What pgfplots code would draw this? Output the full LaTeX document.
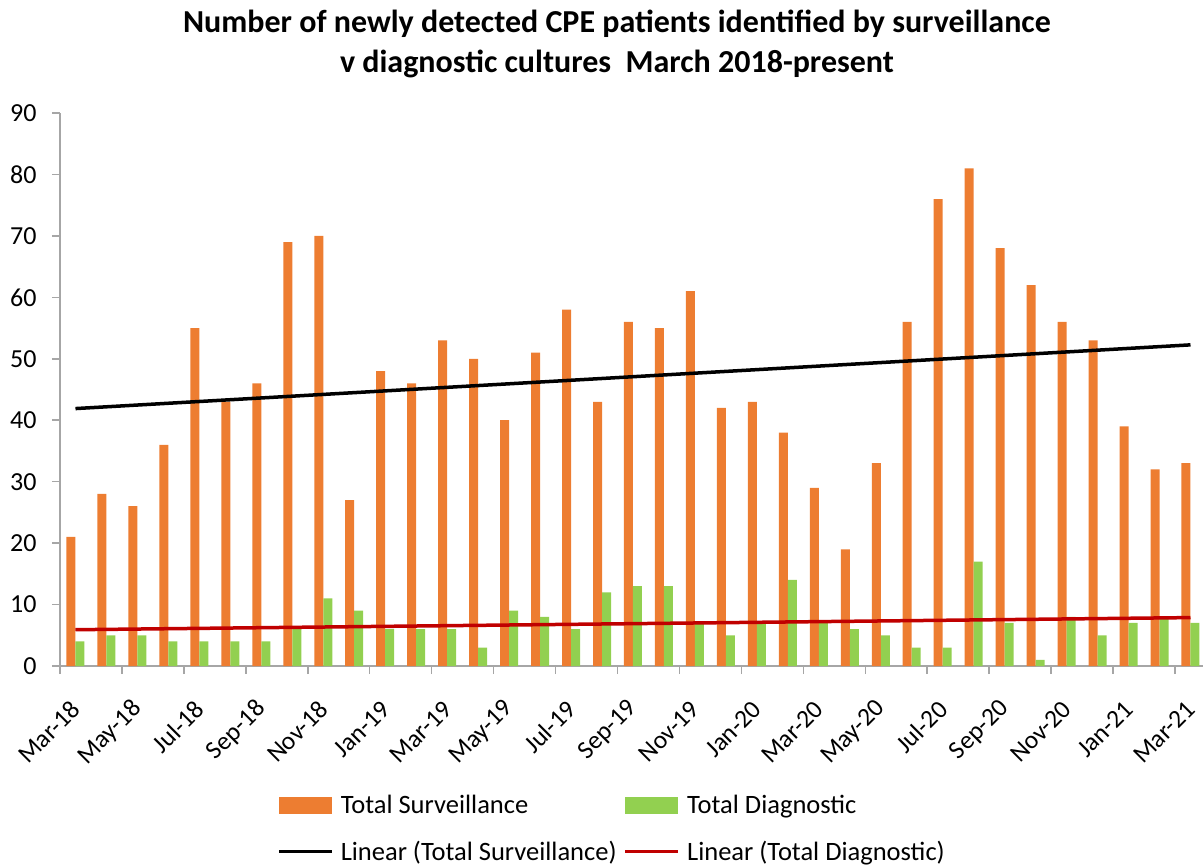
\documentclass[border=0pt]{standalone}
\usepackage{fontspec}
\setmainfont{Carlito}
\usepackage{pgfplots}
\usepackage{pgfplotstable}
\pgfplotsset{compat=1.18}
\definecolor{survorange}{HTML}{ED7D31}
\definecolor{diaggreen}{HTML}{92D050}
\definecolor{trendred}{HTML}{C00000}
\definecolor{axisgray}{HTML}{A6A6A6}

% month index, total surveillance, total diagnostic (Mar-18 .. Mar-21)
\pgfplotstableread{
x s d
0 21 4
1 28 5
2 26 5
3 36 4
4 55 4
5 43 4
6 46 4
7 69 6
8 70 11
9 27 9
10 48 6
11 46 6
12 53 6
13 50 3
14 40 9
15 51 8
16 58 6
17 43 12
18 56 13
19 55 13
20 61 7
21 42 5
22 43 7
23 38 14
24 29 7
25 19 6
26 33 5
27 56 3
28 76 3
29 81 17
30 68 7
31 62 1
32 56 8
33 53 5
34 39 7
35 32 8
36 33 7
}\cpedata

\begin{document}
\begin{tikzpicture}
\begin{axis}[
  scale only axis,
  width=1146pt, height=553pt,
  xmin=-0.5, xmax=36.5,
  ymin=0, ymax=90,
  axis lines*=left,
  axis line style={axisgray, line width=1.5pt},
  tick align=outside,
  major tick length=8pt,
  tick style={axisgray, line width=1.5pt},
  ytick={0,10,...,90},
  xtick={-0.5,1.5,...,35.5},
  xticklabels={Mar-18,May-18,Jul-18,Sep-18,Nov-18,Jan-19,Mar-19,May-19,Jul-19,Sep-19,Nov-19,Jan-20,Mar-20,May-20,Jul-20,Sep-20,Nov-20,Jan-21,Mar-21},
  xticklabel style={xshift=16pt, yshift=-31pt, rotate=45, anchor=east, inner sep=0pt,
    font=\fontsize{25.5}{30}\selectfont},
  yticklabel style={xshift=-12pt, font=\fontsize{26}{30}\selectfont},
  /pgf/number format/assume math mode=true,
  legend columns=2,
  legend cell align=left,
  legend style={
    at={(0.1894,-0.23)}, anchor=north west,
    draw=none, fill=none, inner sep=0pt,
    font=\fontsize{26.5}{30}\selectfont,
    row sep=22pt,
    /tikz/every odd column/.append style={column sep=5pt},
    /tikz/every even column/.append style={column sep=5pt},
  },
  clip=false,
]
\addplot[ybar, bar width=9pt, bar shift=-4.5pt, fill=survorange, draw=none,
  legend image code/.code={\fill[survorange] (0pt,-8.5pt) rectangle (53pt,8.5pt);}]
  table[x=x, y=s] {\cpedata};
\addlegendentry{Total Surveillance}
\addplot[ybar, bar width=9pt, bar shift=4.5pt, fill=diaggreen, draw=none,
  legend image code/.code={\fill[diaggreen] (0pt,-8.5pt) rectangle (53pt,8.5pt);}]
  table[x=x, y=d] {\cpedata};
\addlegendentry{Total Diagnostic}
\addplot[black, line width=3.5pt, no markers,
  legend image code/.code={\draw[black, line width=3.5pt] (0pt,0pt) -- (53pt,0pt);}]
  table[x=x, y={create col/linear regression={y=s}}] {\cpedata};
\addlegendentry{Linear (Total Surveillance)}
\addplot[trendred, line width=3.5pt, no markers,
  legend image code/.code={\draw[trendred, line width=3.5pt] (0pt,0pt) -- (53pt,0pt);}]
  table[x=x, y={create col/linear regression={y=d}}] {\cpedata};
\addlegendentry{Linear (Total Diagnostic)}
\end{axis}
\node[anchor=base, font=\fontsize{32}{38}\selectfont\bfseries] at (557pt,633pt)
  {Number of newly detected CPE patients identified by surveillance};
\node[anchor=base, font=\fontsize{32}{38}\selectfont\bfseries] at (557pt,593pt)
  {v diagnostic cultures\ \ March 2018-present};
\pgfresetboundingbox
\path (-60pt,-202pt) rectangle (1143pt,666pt);
\end{tikzpicture}
\end{document}
